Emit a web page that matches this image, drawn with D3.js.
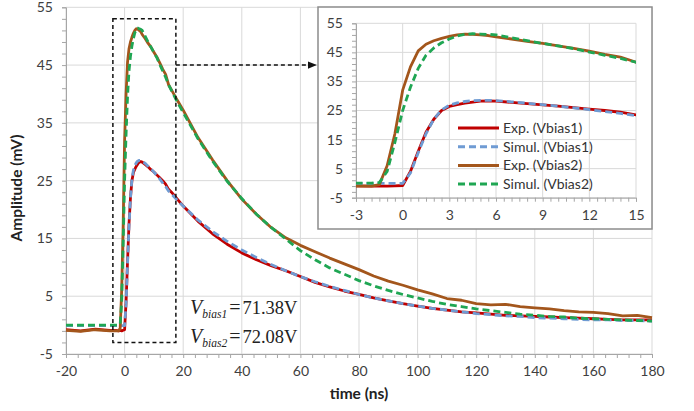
<!DOCTYPE html>
<html>
<head>
<meta charset="utf-8">
<script src="https://cdn.jsdelivr.net/npm/d3@7"></script>
<style>
  body { margin: 0; background: #fff; }
  svg { display: block; }
  .tick text { font-family: Lato, "Open Sans", sans-serif; font-size: 14px; fill: #404040; }
</style>
</head>
<body>
<div id="chart"></div>
<script>
//////////////////// data ////////////////////

var times = [-20, -15, -10, -5, -3, -2, -1.5, -1, -0.5, 0, 0.5, 1, 1.5, 2, 2.5, 3, 3.5, 4, 4.5, 5, 5.5, 6,
  7, 8, 9, 10, 11, 12, 13, 14, 15, 16, 18, 20, 25, 30, 35, 40, 45, 50, 55, 60, 65, 70, 75, 80, 85, 90, 95,
  100, 105, 110, 115, 120, 125, 130, 135, 140, 145, 150, 155, 160, 165, 170, 175, 180];

var expBias1 = [-0.8, -1.0, -0.7, -0.9, -0.9, -1.0, -0.9, -1.0, -0.9, -0.8, 4, 11, 17.5, 22, 25, 26.4, 27, 27.5, 27.9, 28.2, 28.3, 28.2,
  27.8, 27.4, 26.9, 26.5, 26.0, 25.5, 25.0, 24.4, 23.5, 23.0, 21.8, 20.6, 18.0, 15.8, 14.0, 12.5, 11.3, 10.3, 9.4, 8.4, 7.4, 6.6, 5.9, 5.3, 4.7, 4.2, 3.7,
  3.3, 2.9, 2.6, 2.3, 2.1, 1.9, 1.7, 1.6, 1.5, 1.4, 1.3, 1.2, 1.1, 1.0, 0.9, 0.9, 0.9];

var simBias1 = [-0.1, -0.1, -0.1, -0.1, -0.1, -0.1, -0.1, -0.1, -0.1, -0.1, 3.5, 10.5, 17, 22, 25.2, 26.8, 27.6, 28.1, 28.4, 28.5, 28.5, 28.4,
  28.0, 27.5, 27.0, 26.5, 25.9, 25.3, 24.6, 24.0, 23.2, 22.7, 21.6, 20.6, 18.2, 16.2, 14.5, 13.0, 11.7, 10.5, 9.4, 8.4, 7.5, 6.7, 6.0, 5.3, 4.7, 4.2, 3.7,
  3.3, 2.9, 2.6, 2.3, 2.0, 1.8, 1.6, 1.5, 1.3, 1.2, 1.1, 1.0, 0.9, 0.9, 0.8, 0.8, 0.7];

var expBias2 = [-0.9, -1.1, -0.8, -1.0, -1.0, -1.0, -0.5, 6, 17, 32, 40, 45.5, 47.8, 49, 49.8, 50.5, 51, 51.3, 51.2, 51, 50.8, 50.3,
  49.6, 48.8, 48.1, 47.2, 46.4, 45.4, 44.3, 43.4, 41.6, 40.7, 38.9, 37.2, 32.5, 28.6, 25.0, 21.8, 19.2, 16.9, 15.1, 13.8, 12.7, 11.6, 10.6, 9.6, 8.5, 7.6, 6.9,
  6.1, 5.4, 4.6, 4.3, 3.7, 3.5, 3.6, 3.2, 3.0, 2.8, 2.5, 2.3, 2.2, 2.0, 1.6, 1.7, 1.3];

var simBias2 = [0, 0, 0, 0, 0, 0, 0.2, 4, 14, 25, 33, 39.5, 44, 46.5, 48.3, 49.6, 50.6, 51.2, 51.4, 51.3, 51.2, 51.0,
  50.0, 49.0, 48.1, 47.2, 46.3, 45.1, 44.0, 42.9, 41.6, 40.6, 38.6, 36.8, 32.3, 28.4, 24.9, 21.9, 19.2, 16.9, 14.9, 12.9, 11.3, 9.9, 8.8, 7.7, 6.8, 6.0, 5.3,
  4.7, 4.1, 3.6, 3.2, 2.8, 2.5, 2.2, 1.9, 1.7, 1.5, 1.4, 1.2, 1.1, 1.0, 0.9, 0.8, 0.7];

var seriesNames = ["Exp. (Vbias1)", "Simul. (Vbias1)", "Exp. (Vbias2)", "Simul. (Vbias2)"];
var seriesColors = ["#c00000", "#6f9bd3", "#a3561c", "#1fa653"];
var seriesDashed = [false, true, false, true];
var seriesValues = [expBias1, simBias1, expBias2, simBias2];

var xTicks = [-20, 0, 20, 40, 60, 80, 100, 120, 140, 160, 180];
var yTicks = [-5, 5, 15, 25, 35, 45, 55];
var insetXTicks = [-3, 0, 3, 6, 9, 12, 15];

// zoom box shown on the main chart (ns, mV)
var zoomBox = { t0: -4, t1: 17.5, a0: -3, a1: 53 };

//////////////////// set up the svg ////////////////////

var svgWidth = 694, svgHeight = 411;
var svg = d3.select("#chart").append("svg")
  .attr("width", svgWidth).attr("height", svgHeight);
svg.append("rect").attr("width", svgWidth).attr("height", svgHeight).attr("fill", "#fff");

var sans = "Lato, 'Open Sans', sans-serif";

var xScale = d3.scaleLinear().domain([-20, 180]).range([66, 652]);
var yScale = d3.scaleLinear().domain([-5, 55]).range([354, 7.3]);

var series = seriesValues.map(function (vals, i) {
  return { name: seriesNames[i], color: seriesColors[i], dashed: seriesDashed[i],
    points: times.map(function (t, j) { return { t: t, v: vals[j] }; }) };
});

// gridlines
var grid = svg.append("g");
grid.selectAll("line.v").data(xTicks).enter().append("line")
  .attr("x1", d => xScale(d)).attr("x2", d => xScale(d))
  .attr("y1", yScale(55)).attr("y2", yScale(-5))
  .attr("stroke", "#d9d9d9").attr("stroke-width", 1);
grid.selectAll("line.h").data(yTicks).enter().append("line")
  .attr("x1", xScale(-20)).attr("x2", xScale(180))
  .attr("y1", d => yScale(d)).attr("y2", d => yScale(d))
  .attr("stroke", "#d9d9d9").attr("stroke-width", 1);

// axes with minor ticks
function drawAxes(g, xs, ys, xMajor, xMinorStep, yMinorStep, labelGap) {
  var xDom = xs.domain(), yDom = ys.domain();
  var xMinor = d3.range(xDom[0], xDom[1] + 1e-9, xMinorStep);
  var yMinor = d3.range(yDom[0], yDom[1] + 1e-9, yMinorStep);

  g.append("g")
    .attr("transform", `translate(0,${ys(yDom[0])})`)
    .call(d3.axisBottom(xs).tickValues(xMinor).tickSize(4).tickFormat(""))
    .call(a => a.select(".domain").attr("stroke", "#a6a6a6"))
    .call(a => a.selectAll(".tick line").attr("stroke", "#a6a6a6"));
  g.append("g")
    .attr("transform", `translate(0,${ys(yDom[0])})`)
    .call(d3.axisBottom(xs).tickValues(xMajor).tickSize(0).tickPadding(labelGap).tickFormat(d => String(d)))
    .call(a => a.select(".domain").remove());

  g.append("g")
    .attr("transform", `translate(${xs(xDom[0])},0)`)
    .call(d3.axisLeft(ys).tickValues(yMinor).tickSize(4).tickFormat(""))
    .call(a => a.select(".domain").attr("stroke", "#a6a6a6"))
    .call(a => a.selectAll(".tick line").attr("stroke", "#a6a6a6"));
  g.append("g")
    .attr("transform", `translate(${xs(xDom[0])},0)`)
    .call(d3.axisLeft(ys).tickValues(yTicks).tickSize(0).tickPadding(13).tickFormat(d => String(d)))
    .call(a => a.select(".domain").remove());
}

drawAxes(svg.append("g"), xScale, yScale, xTicks, 4, 2, 12);

// lines
function drawSeries(g, xs, ys, clipId) {
  var line = d3.line().x(d => xs(d.t)).y(d => ys(d.v));
  g.selectAll("path.s").data(series).enter().append("path")
    .attr("d", d => line(d.points))
    .attr("fill", "none")
    .attr("stroke", d => d.color)
    .attr("stroke-width", 2.8)
    .attr("stroke-linejoin", "round")
    .attr("stroke-dasharray", d => d.dashed ? "7,4" : null)
    .attr("clip-path", clipId ? `url(#${clipId})` : null);
}
drawSeries(svg.append("g"), xScale, yScale, null);

// zoom box and arrow
svg.append("rect")
  .attr("x", xScale(zoomBox.t0)).attr("y", yScale(zoomBox.a1))
  .attr("width", xScale(zoomBox.t1) - xScale(zoomBox.t0))
  .attr("height", yScale(zoomBox.a0) - yScale(zoomBox.a1))
  .attr("fill", "none").attr("stroke", "#111").attr("stroke-width", 1.5)
  .attr("stroke-dasharray", "4,3");

svg.append("defs").append("marker")
  .attr("id", "arrow").attr("viewBox", "0 0 10 10")
  .attr("refX", 9).attr("refY", 5)
  .attr("markerWidth", 6).attr("markerHeight", 6).attr("orient", "auto")
  .append("path").attr("d", "M0,1 L10,5 L0,9 z").attr("fill", "#111");

svg.append("line")
  .attr("x1", xScale(zoomBox.t1)).attr("x2", 316)
  .attr("y1", yScale(45)).attr("y2", yScale(45))
  .attr("stroke", "#111").attr("stroke-width", 1.5)
  .attr("stroke-dasharray", "4,3")
  .attr("marker-end", "url(#arrow)");

// bias text
var biasText = [["bias1", "71.38V", 314], ["bias2", "72.08V", 342.5]];
biasText.forEach(function (b) {
  var t = svg.append("text")
    .attr("x", 190).attr("y", b[2])
    .attr("font-family", "'Liberation Serif', 'DejaVu Serif', serif")
    .attr("font-size", 20).attr("fill", "#222");
  t.append("tspan").attr("font-style", "italic").text("V");
  t.append("tspan").attr("font-style", "italic").attr("font-size", 11.5).attr("dy", 4).text(b[0]);
  t.append("tspan").attr("dy", -4).attr("dx", 2).text("=");
  t.append("tspan").attr("dx", 2).attr("font-size", 18.5).text(b[1]);
});

// axis labels
svg.append("text")
  .attr("transform", "translate(22,188) rotate(-90)")
  .attr("text-anchor", "middle")
  .attr("font-family", sans).attr("font-size", 15.5).attr("font-weight", "bold").attr("fill", "#222")
  .text("Amplitude (mV)");
svg.append("text")
  .attr("x", 359).attr("y", 399)
  .attr("text-anchor", "middle")
  .attr("font-family", sans).attr("font-size", 15.5).attr("font-weight", "bold").attr("fill", "#222")
  .text("time (ns)");

//////////////////// inset ////////////////////

var inset = svg.append("g");
inset.append("rect")
  .attr("x", 318).attr("y", 7).attr("width", 334).attr("height", 222)
  .attr("fill", "#fff").attr("stroke", "#8c8c8c").attr("stroke-width", 1.5);

var ixScale = d3.scaleLinear().domain([-3, 15]).range([356, 636]);
var iyScale = d3.scaleLinear().domain([-5, 55]).range([197.7, 23.3]);

inset.selectAll("line.iv").data(insetXTicks).enter().append("line")
  .attr("x1", d => ixScale(d)).attr("x2", d => ixScale(d))
  .attr("y1", iyScale(55)).attr("y2", iyScale(-5))
  .attr("stroke", "#d9d9d9");
inset.selectAll("line.ih").data(yTicks).enter().append("line")
  .attr("x1", ixScale(-3)).attr("x2", ixScale(15))
  .attr("y1", d => iyScale(d)).attr("y2", d => iyScale(d))
  .attr("stroke", "#d9d9d9");

drawAxes(inset.append("g"), ixScale, iyScale, insetXTicks, 0.5, 2, 12);

svg.select("defs").append("clipPath").attr("id", "insetClip")
  .append("rect").attr("x", ixScale(-3)).attr("y", iyScale(55) - 5)
  .attr("width", ixScale(15) - ixScale(-3)).attr("height", iyScale(-5) - iyScale(55) + 10);
drawSeries(inset.append("g"), ixScale, iyScale, "insetClip");

// legend
var legend = inset.append("g");
series.forEach(function (s, i) {
  var y = 128 + i * 18.7;
  legend.append("line")
    .attr("x1", 458).attr("x2", 499).attr("y1", y).attr("y2", y)
    .attr("stroke", s.color).attr("stroke-width", 3)
    .attr("stroke-dasharray", s.dashed ? "7,4" : null);
  legend.append("text")
    .attr("x", 503).attr("y", y + 5)
    .attr("font-family", sans).attr("font-size", 14).attr("fill", "#333")
    .text(s.name);
});
</script>
</body>
</html>
